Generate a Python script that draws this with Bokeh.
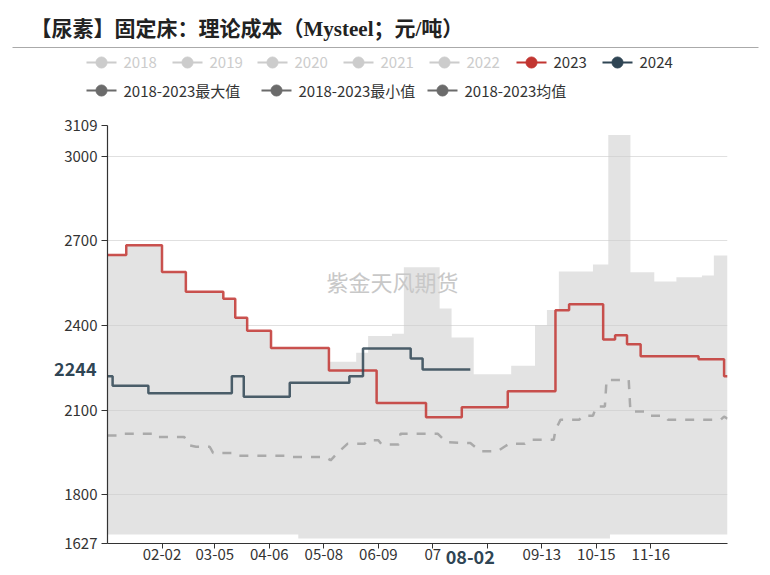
import numpy as np
import pandas as pd
from bokeh.plotting import figure
from bokeh.models import (Range1d, FixedTicker, DatetimeTickFormatter, Label,
                          DatetimeAxis, LinearAxis)
from bokeh.layouts import column
from bokeh.embed import file_html
from bokeh.resources import INLINE
from bokeh.core.properties import value

# ---------------- data (month-day axis, drawn on a 2023 calendar) ----------------
YEAR = "2023"
title_text = "【尿素】固定床：理论成本（Mysteel；元/吨）"
watermark_text = "紫金天风期货"

# 2023 series (step change dates / values)
d23 = ["01-01", "01-12", "02-02", "02-16", "03-10", "03-17", "03-24", "04-07", "05-11", "06-08",
       "07-07", "07-28", "08-24", "09-21", "09-29", "10-19", "10-26", "11-02", "11-10", "12-14", "12-29"]
v23 = [2650, 2684, 2590, 2520, 2495, 2427, 2381, 2320, 2240, 2125,
       2075, 2110, 2167, 2454, 2475, 2350, 2365, 2333, 2291, 2280, 2220]
end23 = "12-31"

# 2024 series
d24 = ["01-01", "01-04", "01-25", "03-15", "03-22", "04-18", "05-23", "05-31", "06-28", "07-05", "08-02"]
v24 = [2220, 2186, 2160, 2220, 2147, 2197, 2220, 2318, 2283, 2244, 2244]

# 2018-2023 max
dmax = ["01-01", "01-12", "02-02", "02-16", "03-10", "03-17", "03-24", "04-07", "05-11", "05-27",
        "06-03", "06-17", "06-24", "07-15", "07-22", "08-04", "08-26", "09-09", "09-16", "09-23",
        "10-13", "10-22", "11-04", "11-18", "12-01", "12-16", "12-23"]
vmax = [2650, 2684, 2590, 2520, 2495, 2427, 2381, 2320, 2271, 2303,
        2363, 2371, 2606, 2460, 2357, 2227, 2257, 2401, 2455, 2591,
        2616, 3075, 2589, 2556, 2571, 2577, 2648]

# 2018-2023 min
dmin = ["01-01", "04-23", "10-23"]
vmin = [1659, 1645, 1659]

# 2018-2023 mean (corner points of the line)
dmean = ["01-01", "01-09", "01-10", "01-30", "01-31", "02-15", "02-18", "02-22", "03-02", "03-04",
         "03-15", "03-17", "04-15", "04-16", "05-09", "05-12", "05-16", "05-22", "06-01", "06-03",
         "06-09", "06-11", "06-21", "06-22", "07-14", "07-19", "08-02", "08-08", "08-18", "08-22",
         "08-25", "09-03", "09-06", "09-20", "09-21", "09-24", "10-05", "10-07", "10-13", "10-15",
         "10-20", "10-21", "11-03", "11-04", "11-12", "11-14", "11-24", "11-26", "12-27", "12-29",
         "12-31"]
vmean = [2010, 2010, 2016, 2016, 2005, 2005, 1975, 1970, 1970, 1948,
         1948, 1938, 1938, 1934, 1934, 1922, 1948, 1981, 1981, 1993,
         1993, 1978, 1978, 2016, 2016, 1986, 1983, 1954, 1954, 1970,
         1981, 1981, 1995, 1995, 2030, 2066, 2066, 2080, 2080, 2113,
         2113, 2207, 2207, 2095, 2095, 2080, 2080, 2066, 2066, 2077,
         2070]

x_start, x_end = "01-01", "12-31"
x_ticks = ["02-02", "03-05", "04-06", "05-08", "06-09", "07-11", "08-12", "09-13", "10-15", "11-16"]
# tick labels partly hidden behind the axis-pointer label in the reference
x_tick_overrides = {"07-11": "07", "08-12": ""}
y_ticks = [1627, 1800, 2100, 2400, 2700, 3000, 3109]

legend_labels = ["2018", "2019", "2020", "2021", "2022", "2023", "2024",
                 "2018-2023最大值", "2018-2023最小值", "2018-2023均值"]
legend_icon_colors = ["#cccccc"] * 5 + ["#c23531", "#2f4554", "#6b6b6b", "#6b6b6b", "#6b6b6b"]
legend_text_colors = ["#cccccc"] * 5 + ["#333333"] * 5

FONT = "Noto Sans CJK SC"
W = 762
fmt = "%m-%d"


def ms(days):
    return (pd.to_datetime([f"{YEAR}-{d}" for d in days]).values
            .astype("datetime64[ms]").astype("int64").astype(float))


def step_xy(dates, vals, end=None):
    xd = ms(dates)
    xs, ys = [], []
    for i, (x, v) in enumerate(zip(xd, vals)):
        if i > 0:
            xs.append(x); ys.append(vals[i - 1])
        xs.append(x); ys.append(v)
    if end is not None:
        xs.append(ms([end])[0]); ys.append(vals[-1])
    return xs, ys


def set_if(model, **kw):
    props = model.properties()
    for k, v in kw.items():
        if k in props:
            setattr(model, k, v)


def md_formatter():
    return DatetimeTickFormatter(microseconds=fmt, milliseconds=fmt, seconds=fmt, minsec=fmt,
                                 minutes=fmt, hourmin=fmt, hours=fmt, days=fmt,
                                 months=fmt, years=fmt)


# ---------------- header (title + legend) ----------------
HH = 100
h = figure(width=W, height=HH, x_range=Range1d(0, W), y_range=Range1d(HH, 0),
           output_backend="svg", toolbar_location=None,
           x_axis_location=None, y_axis_location=None,
           min_border=0, min_border_left=0, min_border_right=0, min_border_top=0, min_border_bottom=0)
h.outline_line_color = None
h.xgrid.visible = False
h.ygrid.visible = False
set_if(h, frame_align=False)

h.text(x=[30], y=[28], text=[title_text],
       text_font=value("'Liberation Serif', 'Noto Sans CJK SC'"), text_font_style="bold",
       text_font_size="21px", text_color="#222222", text_baseline="middle", text_align="left")
h.segment(x0=[12], y0=[47], x1=[758], y1=[47], line_color="#aaaaaa", line_width=1)

row_y = [62] * 7 + [90] * 3
icon_x = [101, 187, 272, 358, 444, 531, 617, 101, 276, 442]
h.segment(x0=[c - 15 for c in icon_x], y0=row_y, x1=[c + 15 for c in icon_x], y1=row_y,
          line_color=legend_icon_colors, line_width=2)
h.scatter(x=icon_x, y=row_y, size=11, fill_color=legend_icon_colors, line_color=legend_icon_colors)
h.text(x=[c + 22 for c in icon_x], y=row_y, text=legend_labels,
       text_font=value(FONT), text_font_size="15px", text_color=legend_text_colors,
       text_baseline="middle", text_align="left")

# ---------------- main chart ----------------
p = figure(frame_width=620, frame_height=418, x_axis_type="datetime",
           x_range=Range1d(ms([x_start])[0], ms([x_end])[0]),
           y_range=Range1d(y_ticks[0], y_ticks[-1]),
           output_backend="svg", toolbar_location=None,
           min_border_left=107, min_border_right=W - 727, min_border_top=25, min_border_bottom=24)
p.outline_line_color = None
p.xgrid.visible = False
p.ygrid.grid_line_color = "#e0e0e0"
set_if(p, frame_align=False)

# band between max and min
mx, my = step_xy(dmax, vmax, x_end)
nx, ny = step_xy(dmin, vmin, x_end)
p.patch(mx + nx[::-1], my + ny[::-1], fill_color="#cccccc", fill_alpha=0.55, line_color=None)

# mean
p.line(ms(dmean), vmean, line_color="#aaaaaa", line_width=2.5, line_dash="9 9")

# 2023
x23, y23 = step_xy(d23, v23, end23)
p.line(x23, y23, line_color="#c23531", line_width=2.5, line_alpha=0.85)

# 2024
x24, y24 = step_xy(d24, v24)
p.line(x24, y24, line_color="#2f4554", line_width=2.5, line_alpha=0.85)

# axes
p.yaxis.ticker = FixedTicker(ticks=y_ticks)
p.xaxis.ticker = FixedTicker(ticks=list(ms(x_ticks)))
p.xaxis.formatter = md_formatter()
p.xaxis.major_label_overrides = {ms([k])[0]: v for k, v in x_tick_overrides.items()}
for ax in (p.xaxis[0], p.yaxis[0]):
    ax.axis_line_color = "#333333"
    ax.axis_line_width = 1.2
    ax.major_tick_line_color = "#333333"
    ax.minor_tick_line_color = None
    ax.major_label_text_font = FONT
    ax.major_label_text_font_size = "15px"
    ax.major_label_text_color = "#333333"
p.xaxis.major_tick_out = 5
p.xaxis.major_tick_in = 0
p.xaxis.major_label_standoff = 0
p.yaxis.major_tick_out = 6
p.yaxis.major_tick_in = 0
p.yaxis.major_label_standoff = 4

# watermark
p.add_layout(Label(x=285, y=263, x_units="screen", y_units="screen", text=watermark_text,
                   text_font=FONT, text_font_size="22px", text_color="#c8c8c8",
                   text_align="center", text_baseline="middle"))

# axis-pointer labels at the last 2024 point: extra axes ticked only at that point,
# pulled back over the main axes' label rows
last_x = ms([d24[-1]])[0]
last_v = v24[-1]
px_axis = DatetimeAxis(ticker=FixedTicker(ticks=[last_x]), formatter=md_formatter(),
                       major_label_standoff=-13)
py_axis = LinearAxis(ticker=FixedTicker(ticks=[last_v]), major_label_standoff=-35)
for ax in (px_axis, py_axis):
    ax.axis_line_color = None
    ax.major_tick_line_color = None
    ax.minor_tick_line_color = None
    ax.major_tick_out = 0
    ax.major_tick_in = 0
    ax.minor_tick_out = 0
    ax.major_label_text_font = FONT
    ax.major_label_text_font_size = "18px"
    ax.major_label_text_font_style = "bold"
    ax.major_label_text_color = "#2f4554"
p.add_layout(px_axis, "below")
p.add_layout(py_axis, "left")

layout = column(h, p, spacing=0)
open("out.html", "w").write(file_html(layout, INLINE))
